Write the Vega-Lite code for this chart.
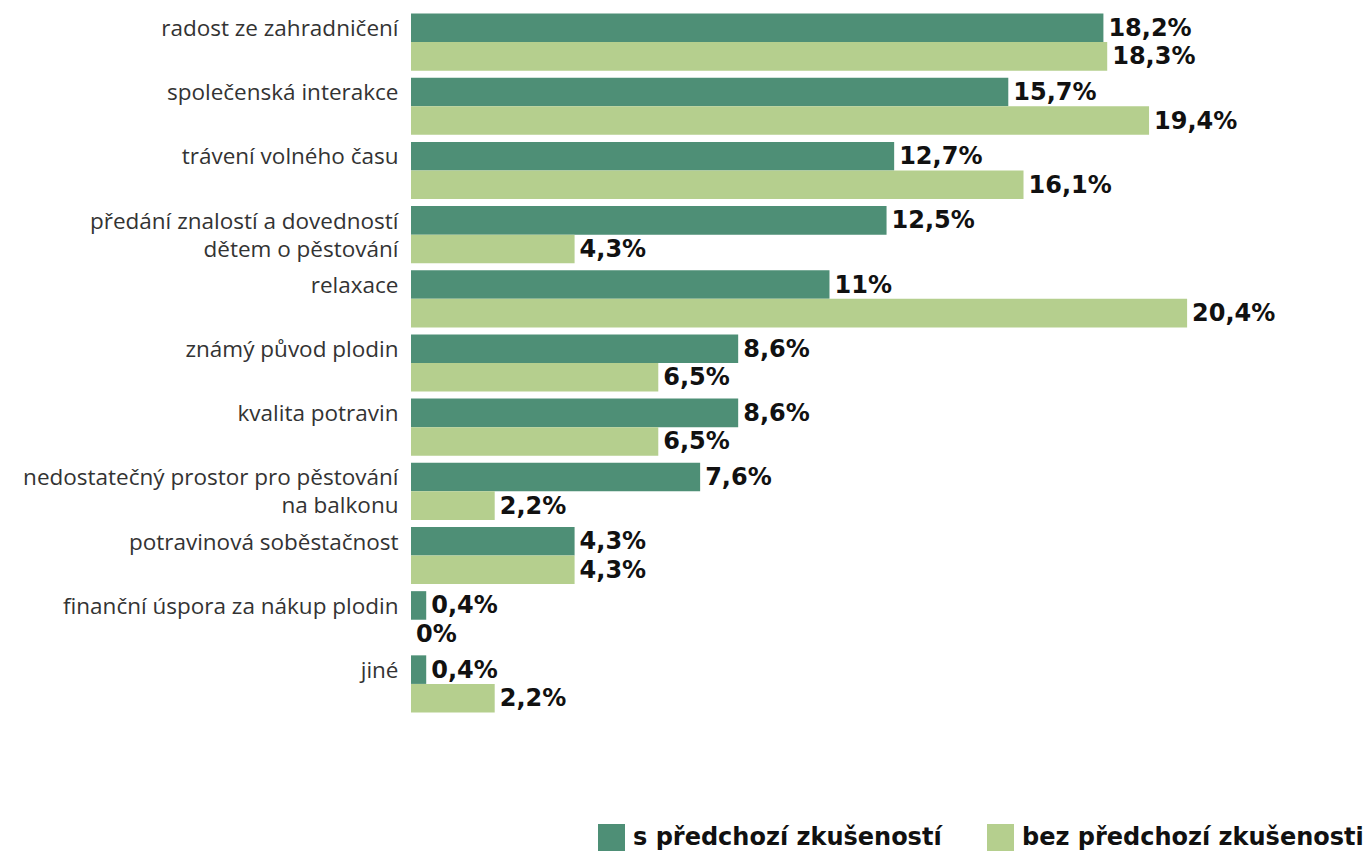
{
  "$schema": "https://vega.github.io/schema/vega-lite/v6.json",
  "autosize": {"type": "none"},
  "padding": {"left": 411, "top": 10, "right": 0, "bottom": 136},
  "width": 961,
  "height": 706,
  "background": "white",
  "config": {"view": {"stroke": null}},
  "data": {
    "values": [
      {"cat": "radost ze zahradničení", "series": "s předchozí zkušeností", "value": 18.2},
      {"cat": "radost ze zahradničení", "series": "bez předchozí zkušenosti", "value": 18.3},
      {"cat": "společenská interakce", "series": "s předchozí zkušeností", "value": 15.7},
      {"cat": "společenská interakce", "series": "bez předchozí zkušenosti", "value": 19.4},
      {"cat": "trávení volného času", "series": "s předchozí zkušeností", "value": 12.7},
      {"cat": "trávení volného času", "series": "bez předchozí zkušenosti", "value": 16.1},
      {"cat": "předání znalostí a dovedností|dětem o pěstování", "series": "s předchozí zkušeností", "value": 12.5},
      {"cat": "předání znalostí a dovedností|dětem o pěstování", "series": "bez předchozí zkušenosti", "value": 4.3},
      {"cat": "relaxace", "series": "s předchozí zkušeností", "value": 11},
      {"cat": "relaxace", "series": "bez předchozí zkušenosti", "value": 20.4},
      {"cat": "známý původ plodin", "series": "s předchozí zkušeností", "value": 8.6},
      {"cat": "známý původ plodin", "series": "bez předchozí zkušenosti", "value": 6.5},
      {"cat": "kvalita potravin", "series": "s předchozí zkušeností", "value": 8.6},
      {"cat": "kvalita potravin", "series": "bez předchozí zkušenosti", "value": 6.5},
      {"cat": "nedostatečný prostor pro pěstování|na balkonu", "series": "s předchozí zkušeností", "value": 7.6},
      {"cat": "nedostatečný prostor pro pěstování|na balkonu", "series": "bez předchozí zkušenosti", "value": 2.2},
      {"cat": "potravinová soběstačnost", "series": "s předchozí zkušeností", "value": 4.3},
      {"cat": "potravinová soběstačnost", "series": "bez předchozí zkušenosti", "value": 4.3},
      {"cat": "finanční úspora za nákup plodin", "series": "s předchozí zkušeností", "value": 0.4},
      {"cat": "finanční úspora za nákup plodin", "series": "bez předchozí zkušenosti", "value": 0},
      {"cat": "jiné", "series": "s předchozí zkušeností", "value": 0.4},
      {"cat": "jiné", "series": "bez předchozí zkušenosti", "value": 2.2}
    ]
  },
  "encoding": {
    "y": {
      "field": "cat",
      "type": "nominal",
      "sort": null,
      "scale": {"paddingInner": 0.11, "paddingOuter": 0.055},
      "axis": {
        "title": null,
        "domain": false,
        "ticks": false,
        "labelPadding": 13,
        "labelFont": "Open Sans",
        "labelFontSize": 22.5,
        "labelColor": "#333333",
        "labelBaseline": "top",
        "labelOffset": -24,
        "labelLineHeight": 28,
        "labelLimit": 500,
        "labelExpr": "split(datum.label, '|')"
      }
    },
    "yOffset": {"field": "series", "type": "nominal", "sort": ["s předchozí zkušeností", "bez předchozí zkušenosti"]},
    "x": {
      "field": "value",
      "type": "quantitative",
      "scale": {"domain": [0, 25.26], "nice": false, "zero": true},
      "axis": null
    }
  },
  "layer": [
    {
      "mark": {"type": "bar"},
      "encoding": {
        "color": {
          "field": "series",
          "type": "nominal",
          "sort": ["s předchozí zkušeností", "bez předchozí zkušenosti"],
          "scale": {"domain": ["s předchozí zkušeností", "bez předchozí zkušenosti"], "range": ["#4e8f76", "#b5cf8e"]},
          "legend": {
            "title": null,
            "orient": "none",
            "direction": "horizontal",
            "legendX": 187,
            "legendY": 814,
            "padding": 0,
            "symbolType": "square",
            "symbolSize": 729,
            "symbolStrokeWidth": 0,
            "labelFont": "DejaVu Sans",
            "labelFontWeight": "bold",
            "labelFontSize": 24,
            "labelColor": "#111111",
            "labelOffset": 8,
            "labelLimit": 600,
            "columnPadding": 45
          }
        }
      }
    },
    {
      "mark": {
        "type": "text",
        "align": "left",
        "baseline": "middle",
        "dx": 5,
        "dy": 1,
        "font": "DejaVu Sans",
        "fontWeight": "bold",
        "fontSize": 24,
        "color": "#111111",
        "text": {"expr": "replace(format(datum.value, '.1~f'), '.', ',') + '%'"}
      }
    }
  ]
}
